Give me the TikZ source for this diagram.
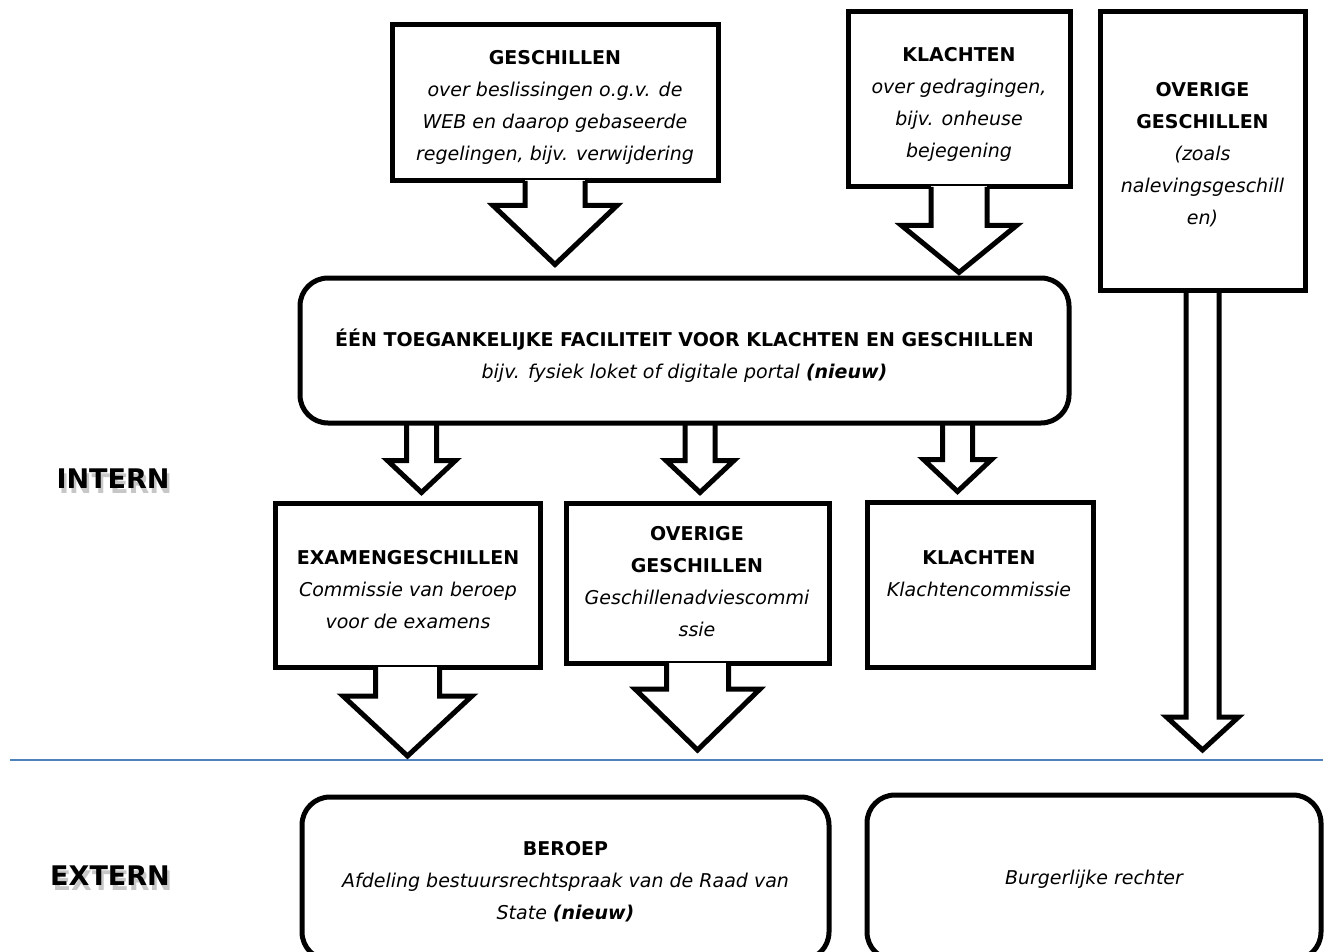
\documentclass[tikz,border=0pt]{standalone}
\usepackage{fontspec}
\setmainfont{DejaVu Sans}
\usetikzlibrary{calc}
\definecolor{sepblue}{HTML}{4F81BD}
\tikzset{
  x=1pt, y=-1pt,
  bline/.style={line width=5pt, line join=miter, black},
  sqbox/.style={draw, line width=5pt, fill=white, inner sep=0pt},
  rbox/.style={draw, line width=5pt, rounded corners=28pt, fill=white, inner sep=0pt},
  btxt/.style={align=center, font=\fontsize{19}{32}\selectfont, inner sep=0pt},
  sidelbl/.style={font=\fontsize{27}{30}\selectfont\bfseries, inner sep=0pt},
  shadowlbl/.style={sidelbl, text=black, opacity=0.22},
}
% #1 start, #2 tip (only its y is used), #3 stem half width, #4 head half width, #5 head length, #6 open into box (1/0)
\newcommand\blockarrow[6]{%
  \ifnum#6=1
    \fill[white] let \p1=#1, \p2=#2 in (\x1-#3pt,\y1+3pt) rectangle (\x1+#3pt,\y2+#5pt);
  \fi
  \draw[bline] let \p1=#1, \p2=#2 in
    (\x1-#3pt,\y1+2.5pt) -- (\x1-#3pt,\y2+#5pt) -- (\x1-#4pt,\y2+#5pt) -- (\x1,\y2)
    -- (\x1+#4pt,\y2+#5pt) -- (\x1+#3pt,\y2+#5pt) -- (\x1+#3pt,\y1+2.5pt);
}
\begin{document}
\begin{tikzpicture}
\fill[white] (0,0) rectangle (1331,952);
\useasboundingbox (0,0) rectangle (1331,952);
\clip (0,0) rectangle (1331,952);

% separator line
\coordinate (sepL) at (10,760);
\coordinate (sepR) at (1323,760);
\draw[sepblue, line width=2pt] (sepL) -- (sepR);

% boxes
\node[sqbox, minimum width=326pt, minimum height=156pt] (geb) at (555,103) {};
\node[sqbox, minimum width=222pt, minimum height=175pt] (klb) at (959,99.5) {};
\node[sqbox, minimum width=205pt, minimum height=278pt] (ovb) at (1202.5,151) {};
\node[rbox, minimum width=769pt, minimum height=145pt] (main) at (684.5,350.5) {};
\node[sqbox, minimum width=265pt, minimum height=164pt] (exb) at (407.5,585) {};
\node[sqbox, minimum width=263pt, minimum height=160pt] (omb) at (697.5,583) {};
\node[sqbox, minimum width=226pt, minimum height=165pt] (kmb) at (980,584.5) {};
\node[rbox, minimum width=527pt, minimum height=163pt] (ber) at (565.5,878.5) {};
\node[rbox, minimum width=454pt, minimum height=165pt] (bur) at (1094,877.5) {};

% block arrows
\blockarrow{(geb.south)}{($(main.north)+(0,-11)$)}{30}{62}{59}{1}
\blockarrow{(klb.south)}{($(main.north)+(0,-3)$)}{28}{57.5}{47}{1}
\blockarrow{($(main.south)+(-263,0)$)}{($(exb.north)+(0,-8)$)}{15}{34}{32}{0}
\blockarrow{($(main.south)+(15.5,0)$)}{($(omb.north)+(0,-8)$)}{15}{34}{32}{0}
\blockarrow{($(main.south)+(273,0)$)}{($(kmb.north)+(0,-8)$)}{15}{34}{32}{0}
\blockarrow{(ovb.south)}{($(sepR)+(0,-10)$)}{16.5}{36}{33}{0}
\blockarrow{(exb.south)}{($(sepL)+(0,-4)$)}{32}{64.5}{60}{1}
\blockarrow{(omb.south)}{($(sepL)+(0,-10)$)}{31}{62.5}{61}{1}

% texts
\node[btxt] (get) at (555,107.5) {\textbf{GESCHILLEN}\\ \textit{over beslissingen o.g.v. de}\\ \textit{WEB en daarop gebaseerde}\\ \textit{regelingen, bijv. verwijdering}};
\node[btxt] (klt) at (959,104.5) {\textbf{KLACHTEN}\\ \textit{over gedragingen,}\\ \textit{bijv. onheuse}\\ \textit{bejegening}};
\node[btxt] (ovt) at (1202.5,155) {\textbf{OVERIGE}\\ \textbf{GESCHILLEN}\\ \textit{(zoals}\\ \textit{nalevingsgeschill}\\ \textit{en)}};
\node[btxt] (maint) at (684.5,356) {\textbf{ÉÉN TOEGANKELIJKE FACILITEIT VOOR KLACHTEN EN GESCHILLEN}\\ \textit{bijv. fysiek loket of digitale portal \textbf{(nieuw)}}};
\node[btxt] (ext) at (408,590) {\textbf{EXAMENGESCHILLEN}\\ \textit{Commissie van beroep}\\ \textit{voor de examens}};
\node[btxt] (omt) at (697,582) {\textbf{OVERIGE}\\ \textbf{GESCHILLEN}\\ \textit{Geschillenadviescommi}\\ \textit{ssie}};
\node[btxt] (kmt) at (979,573.5) {\textbf{KLACHTEN}\\ \textit{Klachtencommissie}};
\node[btxt] (bert) at (565.5,881.5) {\textbf{BEROEP}\\ \textit{Afdeling bestuursrechtspraak van de Raad van}\\ \textit{State \textbf{(nieuw)}}};
\node[btxt] (burt) at (1094.5,879) {\textit{Burgerlijke rechter}};

% side labels with soft shadow
\node[shadowlbl] at (115.5,483.5) {INTERN};
\node[sidelbl] (intern) at (113,479) {INTERN};
\node[shadowlbl] at (112.5,880.5) {EXTERN};
\node[sidelbl] (extern) at (110,876) {EXTERN};
\end{tikzpicture}
\end{document}
